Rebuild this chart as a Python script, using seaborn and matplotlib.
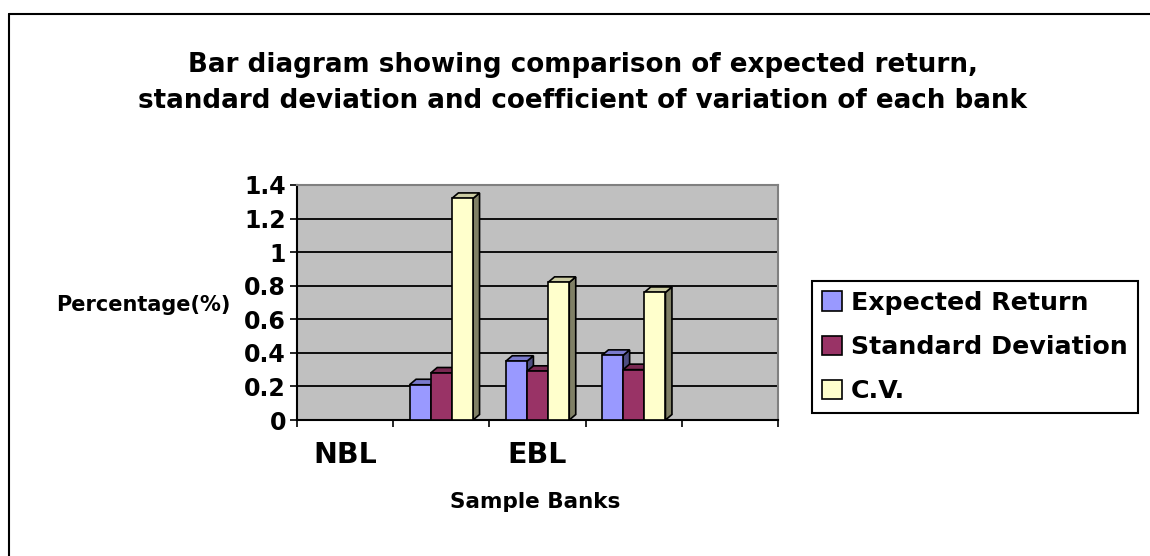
import numpy as np
import pandas as pd
import matplotlib
matplotlib.use("Agg")
import matplotlib.pyplot as plt
import seaborn as sns
from matplotlib.patches import Polygon
from matplotlib.lines import Line2D
from matplotlib.colors import to_rgb

# data (five slots on the x axis, first and last are empty)
banks = ["NBL", " ", "EBL", "  ", "   "]
series = ["Expected Return", "Standard Deviation", "C.V."]
expected_return = [np.nan, 0.21, 0.35, 0.385, np.nan]
std_dev = [np.nan, 0.28, 0.29, 0.30, np.nan]
cv = [np.nan, 1.32, 0.82, 0.76, np.nan]
colors = ["#9999FF", "#993366", "#FFFFCC"]
y_ticks = [0, 0.2, 0.4, 0.6, 0.8, 1, 1.2, 1.4]
y_tick_labels = ["0", "0.2", "0.4", "0.6", "0.8", "1", "1.2", "1.4"]

df = pd.DataFrame({
    "Bank": banks * 3,
    "Series": [s for s in series for _ in banks],
    "Value": expected_return + std_dev + cv,
}).dropna()

sns.set_style("white")
plt.rcParams["font.family"] = ["DejaVu Sans"]
plt.rcParams["font.weight"] = "bold"
plt.rcParams["text.color"] = "black"
plt.rcParams["axes.labelcolor"] = "black"
plt.rcParams["xtick.color"] = "black"
plt.rcParams["ytick.color"] = "black"

fig = plt.figure(figsize=(11.5, 5.56), dpi=100)
ax = fig.add_axes([297 / 1150, 136 / 556, 481 / 1150, 235 / 556])

sns.barplot(data=df, x="Bank", y="Value", hue="Series", order=banks,
            hue_order=series, palette=colors, width=0.66, errorbar=None,
            edgecolor="black", linewidth=1.2, saturation=1, ax=ax, zorder=3)

ax.set_xlim(-0.5, len(banks) - 0.5)
ax.set_ylim(0, 1.4)
ax.set_facecolor("#C0C0C0")
ax.set_axisbelow(True)
ax.yaxis.grid(True, color="black", linewidth=1.3)

# fake 3D: top and side faces, offset a few pixels up and right
dx = 6.5 * len(banks) / 481
dy = 5.5 * 1.4 / 235
for bar in list(ax.patches):
    h = bar.get_height()
    if np.isnan(h) or h == 0:
        continue
    x0, w = bar.get_x(), bar.get_width()
    c = np.array(to_rgb(bar.get_facecolor()))
    top = Polygon([(x0, h), (x0 + w, h), (x0 + w + dx, h + dy), (x0 + dx, h + dy)],
                  facecolor=c * 0.8, edgecolor="black", linewidth=1.2, zorder=2)
    side = Polygon([(x0 + w, 0), (x0 + w + dx, dy), (x0 + w + dx, h + dy), (x0 + w, h)],
                   facecolor=c * 0.5, edgecolor="black", linewidth=1.2, zorder=2)
    ax.add_patch(side)
    ax.add_patch(top)

# axes and ticks
ax.set_yticks(y_ticks)
ax.set_yticklabels(y_tick_labels, fontsize=17, fontweight="bold")
ax.set_xticks(np.arange(len(banks) + 1) - 0.5)
ax.set_xticklabels([])
ax.set_xticks(np.arange(len(banks)), minor=True)
ax.set_xticklabels(banks, minor=True, fontsize=20.5, fontweight="bold")
ax.tick_params(axis="y", left=True, length=5, width=1.2, pad=3)
ax.tick_params(axis="x", which="major", bottom=True, length=5, width=1.2)
ax.tick_params(axis="x", which="minor", bottom=False, length=0, pad=15)
for side_name in ["left", "bottom"]:
    ax.spines[side_name].set_color("black")
    ax.spines[side_name].set_linewidth(1.5)
for side_name in ["top", "right"]:
    ax.spines[side_name].set_color("#808080")
    ax.spines[side_name].set_linewidth(1.5)

ax.set_ylabel("Percentage(%)", rotation=0, fontsize=15, fontweight="bold",
              ha="center", va="center")
ax.yaxis.set_label_coords((143 - 297) / 481, (420 - 305) / 235)
ax.set_xlabel("Sample Banks", fontsize=15.5, fontweight="bold", ha="center", va="center")
ax.xaxis.set_label_coords((535 - 297) / 481, (420 - 502) / 235)

# legend
handles, labels = ax.get_legend_handles_labels()
ax.legend_.remove()
leg = fig.legend(handles, labels, loc="center left", bbox_to_anchor=(812 / 1150, 1 - 347 / 556),
                 frameon=True, fancybox=False, edgecolor="black", framealpha=1,
                 prop={"size": 18.2, "weight": "bold"}, handlelength=0.8, handleheight=0.8,
                 handletextpad=0.35, labelspacing=0.8, borderpad=0.4, borderaxespad=0)
leg.get_frame().set_linewidth(1.5)

# title, two centered lines
fig.text(583 / 1150, 1 - 72 / 556, "Bar diagram showing comparison of expected return,",
         ha="center", va="baseline", fontsize=18.8, fontweight="bold")
fig.text(583 / 1150, 1 - 108 / 556, "standard deviation and coefficient of variation of each bank",
         ha="center", va="baseline", fontsize=18.8, fontweight="bold")

# outer chart frame
fig.add_artist(Line2D([9 / 1150, 1], [1 - 14 / 556, 1 - 14 / 556], color="black", linewidth=1.5))
fig.add_artist(Line2D([9 / 1150, 9 / 1150], [0, 1 - 14 / 556], color="black", linewidth=1.5))

fig.savefig("out.png", dpi=100)
